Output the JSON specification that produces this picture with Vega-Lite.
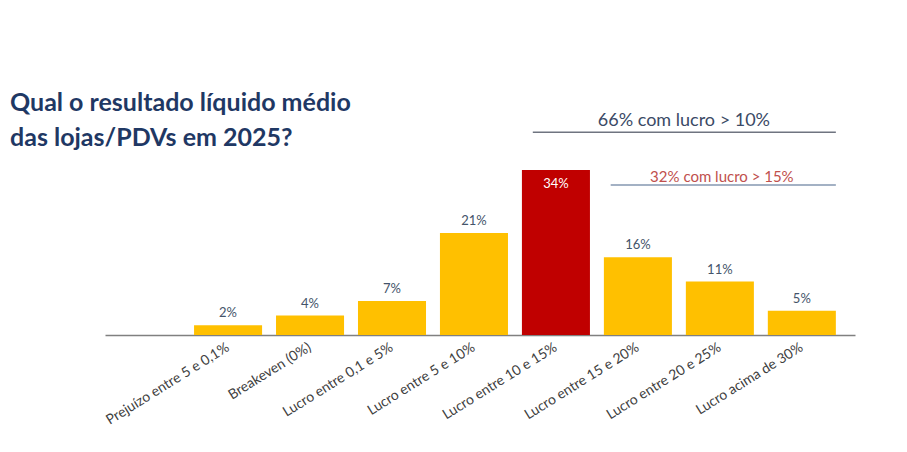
{
  "$schema": "https://vega.github.io/schema/vega-lite/v6.json",
  "autosize": {"type": "none"},
  "width": 750,
  "height": 165,
  "padding": {"top": 170, "left": 105, "right": 52, "bottom": 117},
  "background": "white",
  "title": {
    "text": ["Qual o resultado líquido médio", "das lojas/PDVs em 2025?"],
    "anchor": "start",
    "frame": "group",
    "dx": -95,
    "offset": -39,
    "font": "Lato",
    "fontSize": 25,
    "fontWeight": "bold",
    "lineHeight": 35,
    "color": "#1F3864"
  },
  "datasets": {
    "bars": [
      {"faixa": "Prejuízo entre 5 e 0,1%", "pct": 0.02, "destaque": "nao"},
      {"faixa": "Breakeven (0%)", "pct": 0.04, "destaque": "nao"},
      {"faixa": "Lucro entre 0,1 e 5%", "pct": 0.07, "destaque": "nao"},
      {"faixa": "Lucro entre 5 e 10%", "pct": 0.21, "destaque": "nao"},
      {"faixa": "Lucro entre 10 e 15%", "pct": 0.34, "destaque": "sim"},
      {"faixa": "Lucro entre 15 e 20%", "pct": 0.16, "destaque": "nao"},
      {"faixa": "Lucro entre 20 e 25%", "pct": 0.11, "destaque": "nao"},
      {"faixa": "Lucro acima de 30%", "pct": 0.05, "destaque": "nao"}
    ]
  },
  "data": {"name": "bars"},
  "encoding": {
    "x": {
      "field": "faixa",
      "type": "nominal",
      "sort": null,
      "title": null,
      "scale": {
        "domain": [" ", "Prejuízo entre 5 e 0,1%", "Breakeven (0%)", "Lucro entre 0,1 e 5%", "Lucro entre 5 e 10%", "Lucro entre 10 e 15%", "Lucro entre 15 e 20%", "Lucro entre 20 e 25%", "Lucro acima de 30%"],
        "paddingInner": 0.17,
        "paddingOuter": 0.16,
        "align": 0.27
      },
      "axis": {
        "labelAngle": -32,
        "labelAlign": "right",
        "labelBaseline": "middle",
        "labelPadding": 11,
        "labelFont": "Lato",
        "labelFontSize": 14,
        "labelColor": "#404040",
        "labelOverlap": false,
        "ticks": false,
        "domainColor": "#808080",
        "domainWidth": 1.5
      }
    },
    "y": {
      "field": "pct",
      "type": "quantitative",
      "scale": {"domain": [0, 0.34], "nice": false},
      "axis": null
    }
  },
  "layer": [
    {
      "mark": {"type": "bar"},
      "encoding": {
        "color": {
          "field": "destaque",
          "type": "nominal",
          "scale": {"domain": ["nao", "sim"], "range": ["#FFC000", "#C00000"]},
          "legend": null
        }
      }
    },
    {
      "transform": [{"filter": "datum.destaque == 'nao'"}],
      "mark": {"type": "text", "baseline": "bottom", "dy": -5, "font": "Lato", "fontSize": 13, "color": "#44546A"},
      "encoding": {"text": {"field": "pct", "type": "quantitative", "format": ".0%"}}
    },
    {
      "transform": [{"filter": "datum.destaque == 'sim'"}],
      "mark": {"type": "text", "baseline": "middle", "dy": 14, "font": "Lato", "fontSize": 13, "color": "white"},
      "encoding": {"text": {"field": "pct", "type": "quantitative", "format": ".0%"}}
    },
    {
      "data": {"values": [{"de": "Lucro entre 10 e 15%", "ate": "Lucro acima de 30%", "nivel": 0.418}]},
      "mark": {"type": "rule", "color": "#6F7480", "strokeWidth": 1.5},
      "encoding": {
        "x": {"field": "de", "type": "nominal", "bandPosition": 0.16},
        "x2": {"field": "ate", "bandPosition": 1},
        "y": {"field": "nivel", "type": "quantitative"}
      }
    },
    {
      "data": {"values": [{"de": "Lucro entre 15 e 20%", "ate": "Lucro acima de 30%", "nivel": 0.309}]},
      "mark": {"type": "rule", "color": "#8497B0", "strokeWidth": 1.5},
      "encoding": {
        "x": {"field": "de", "type": "nominal", "bandPosition": 0.1},
        "x2": {"field": "ate", "bandPosition": 1},
        "y": {"field": "nivel", "type": "quantitative"}
      }
    },
    {
      "data": {"values": [{"ref": "Lucro entre 15 e 20%", "nivel": 0.441, "rotulo": "66% com lucro > 10%"}]},
      "mark": {"type": "text", "dx": 46, "baseline": "middle", "font": "Lato", "fontSize": 18, "color": "#3B4A66"},
      "encoding": {
        "x": {"field": "ref", "type": "nominal"},
        "y": {"field": "nivel", "type": "quantitative"},
        "text": {"field": "rotulo"}
      }
    },
    {
      "data": {"values": [{"ref": "Lucro entre 20 e 25%", "nivel": 0.325, "rotulo": "32% com lucro > 15%"}]},
      "mark": {"type": "text", "dx": 2, "baseline": "middle", "font": "Lato", "fontSize": 15, "color": "#C0504D"},
      "encoding": {
        "x": {"field": "ref", "type": "nominal"},
        "y": {"field": "nivel", "type": "quantitative"},
        "text": {"field": "rotulo"}
      }
    }
  ],
  "config": {"view": {"stroke": null}}
}
